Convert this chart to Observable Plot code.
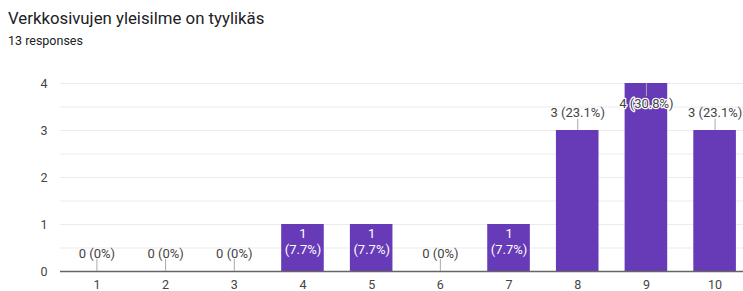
<!DOCTYPE html>
<html>
<head>
<meta charset="utf-8">
<script src="https://cdn.jsdelivr.net/npm/d3@7"></script>
<script src="https://cdn.jsdelivr.net/npm/@observablehq/plot@0.6"></script>
<style>
  html, body { margin: 0; padding: 0; background: #fff; width: 743px; height: 291px; overflow: hidden; font-family: Roboto, "Noto Sans", sans-serif; }
  #title { position: absolute; left: 8px; top: 8px; font-size: 16.8px; line-height: 20px; color: #202124; white-space: nowrap; }
  #sub { position: absolute; left: 8px; top: 33px; font-size: 12.5px; line-height: 16px; color: #202124; white-space: nowrap; }
  #chart { position: absolute; left: 0; top: 55px; width: 743px; overflow: hidden; }
</style>
</head>
<body>
<div id="title">Verkkosivujen yleisilme on tyylikäs</div>
<div id="sub">13 responses</div>
<div id="chart"></div>
<script>
const categories = [1, 2, 3, 4, 5, 6, 7, 8, 9, 10];
const counts = [0, 0, 0, 1, 1, 0, 1, 3, 4, 3];
const percents = ["0%", "0%", "0%", "7.7%", "7.7%", "0%", "7.7%", "23.1%", "30.8%", "23.1%"];
const yTicks = [0, 1, 2, 3, 4];
const gridValues = [0.5, 1, 1.5, 2, 2.5, 3, 3.5, 4];
// label placement: "zero" above baseline, "inside" within bar, "above" over bar, "clamp" within bar top
const placement = ["zero", "zero", "zero", "inside", "inside", "zero", "inside", "above", "clamp", "above"];

const data = categories.map((c, i) => ({
  cat: c, n: counts[i], pct: percents[i], place: placement[i]
}));

const purple = "#673ab7";
const grey = "#444";

const zeroRows = data.filter(d => d.place === "zero");
const insideRows = data.filter(d => d.place === "inside");
const aboveRows = data.filter(d => d.place === "above");
const clampRows = data.filter(d => d.place === "clamp");

const chart = Plot.plot({
  width: 751,
  height: 236,
  marginLeft: 60,
  marginRight: 0,
  marginTop: 28,
  marginBottom: 20,
  style: { fontFamily: "Roboto, 'Noto Sans', sans-serif", fontSize: "12px", color: grey, background: "transparent", maxWidth: "none" },
  x: { type: "band", domain: categories, paddingInner: 0.38, paddingOuter: 0.22, round: false, label: null },
  y: { domain: [0, 4], label: null },
  marks: [
    Plot.ruleY(gridValues, { stroke: "#ebebeb", strokeWidth: 1 }),
    Plot.barY(data, { x: "cat", y: "n", fill: purple }),
    Plot.ruleY([0], { stroke: "#666", strokeWidth: 1.3 }),
    Plot.axisY({ ticks: yTicks, tickSize: 0, tickPadding: 13, tickFormat: d => String(d), fill: grey, fontSize: 12.5 }),
    Plot.axisX({ tickSize: 0, tickPadding: 9, fill: grey, fontSize: 12.5 }),
    Plot.ruleX(zeroRows, { x: "cat", y1: 0, y2: 0.26, stroke: "#aaa", strokeWidth: 1 }),
    Plot.text(zeroRows, { x: "cat", y: "n", dy: -18, text: d => `${d.n} (${d.pct})`, fill: grey, fontSize: 13 }),
    Plot.text(insideRows, { x: "cat", y: "n", dy: 2, lineAnchor: "top", lineHeight: 1.25, text: d => `${d.n}\n(${d.pct})`, fill: "#fff", fontSize: 13 }),
    Plot.ruleX(aboveRows, { x: "cat", y1: "n", y2: d => d.n + 0.24, stroke: "#aaa", strokeWidth: 1 }),
    Plot.text(aboveRows, { x: "cat", y: "n", dy: -18, text: d => `${d.n} (${d.pct})`, fill: grey, fontSize: 13 }),
    Plot.ruleX(clampRows, { x: "cat", y1: "n", y2: d => d.n - 0.28, stroke: "#aaa", strokeWidth: 1 }),
    Plot.text(clampRows, { x: "cat", y: "n", dy: 20, text: d => `${d.n} (${d.pct})`, fill: grey, stroke: "#fff", strokeWidth: 2.5, fontSize: 13 })
  ]
});
document.getElementById("chart").appendChild(chart);
</script>
</body>
</html>
